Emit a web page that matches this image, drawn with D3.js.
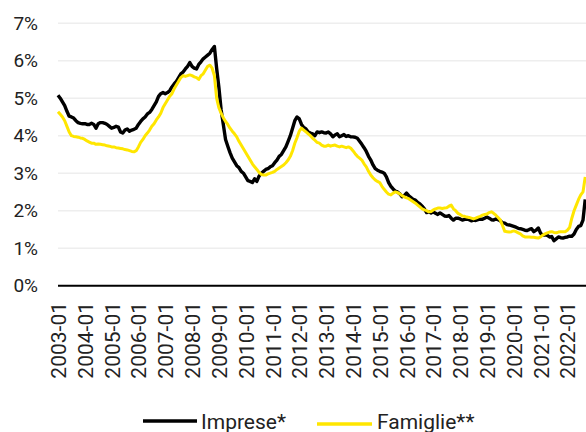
<!DOCTYPE html>
<html><head><meta charset="utf-8">
<script src="https://cdn.jsdelivr.net/npm/d3@7"></script>
<style>
html,body{margin:0;padding:0;background:#fff;}
svg{display:block;}
text{font-family:Roboto,"Open Sans",sans-serif;fill:#222;}
</style></head>
<body>
<svg id="chart" width="586" height="432"></svg>
<script>
// Monthly series starting 2003-01 (values in %)
const startYear = 2003;
const imprese = [
5.08,5.0,4.9,4.8,4.65,4.52,4.5,4.47,4.4,4.35,4.33,4.32,
4.32,4.3,4.3,4.33,4.3,4.2,4.32,4.35,4.35,4.33,4.3,4.25,
4.2,4.22,4.25,4.23,4.1,4.07,4.15,4.18,4.12,4.15,4.17,4.2,
4.3,4.38,4.45,4.5,4.58,4.62,4.7,4.8,4.9,5.05,5.12,5.15,
5.12,5.15,5.2,5.3,5.38,5.45,5.55,5.65,5.7,5.78,5.85,5.95,
5.85,5.8,5.78,5.9,5.97,6.05,6.1,6.15,6.2,6.3,6.38,5.8,
5.3,4.7,4.3,3.9,3.72,3.55,3.4,3.3,3.2,3.15,3.05,3.0,
2.9,2.8,2.78,2.75,2.85,2.78,2.92,3.0,3.05,3.1,3.12,3.17,
3.2,3.28,3.35,3.45,3.5,3.6,3.7,3.85,4.0,4.2,4.4,4.5,
4.45,4.3,4.22,4.18,4.1,4.07,4.05,4.0,4.1,4.08,4.1,4.08,
4.07,4.1,4.05,3.97,4.02,4.05,3.97,4.0,4.03,3.98,4.0,3.97,
3.97,3.96,3.93,3.85,3.77,3.68,3.58,3.45,3.35,3.22,3.12,3.08,
3.05,3.03,3.0,2.9,2.75,2.65,2.58,2.52,2.5,2.45,2.37,2.4,
2.47,2.4,2.35,2.3,2.28,2.22,2.18,2.12,2.05,1.95,1.97,1.94,
1.97,1.93,1.9,1.94,1.9,1.86,1.85,1.87,1.8,1.75,1.8,1.8,
1.78,1.75,1.77,1.78,1.76,1.73,1.75,1.74,1.76,1.78,1.77,1.8,
1.83,1.8,1.76,1.75,1.78,1.76,1.73,1.68,1.67,1.63,1.62,1.6,
1.58,1.56,1.53,1.52,1.5,1.48,1.47,1.5,1.52,1.44,1.48,1.54,
1.4,1.35,1.36,1.34,1.3,1.31,1.2,1.25,1.3,1.28,1.27,1.29,
1.3,1.32,1.32,1.38,1.5,1.58,1.6,1.75,2.3
];
const famiglie = [
4.64,4.57,4.5,4.4,4.25,4.1,4.0,3.98,3.97,3.96,3.94,3.93,
3.9,3.86,3.83,3.8,3.8,3.77,3.78,3.77,3.76,3.75,3.73,3.72,
3.7,3.7,3.68,3.67,3.66,3.65,3.63,3.62,3.6,3.58,3.57,3.6,
3.7,3.82,3.9,4.0,4.07,4.15,4.25,4.32,4.42,4.5,4.6,4.75,
4.85,4.95,5.05,5.12,5.25,5.35,5.45,5.55,5.6,5.58,5.6,5.62,
5.6,5.57,5.55,5.5,5.6,5.65,5.75,5.85,5.88,5.8,5.6,5.0,
4.75,4.6,4.48,4.38,4.3,4.2,4.12,4.05,3.97,3.85,3.75,3.65,
3.55,3.45,3.35,3.25,3.17,3.1,3.02,2.97,2.95,2.95,2.98,3.0,
3.02,3.05,3.1,3.14,3.18,3.22,3.28,3.35,3.45,3.6,3.8,3.95,
4.12,4.2,4.15,4.1,4.05,4.0,3.93,3.88,3.82,3.8,3.75,3.72,
3.72,3.75,3.72,3.74,3.75,3.72,3.7,3.72,3.7,3.68,3.7,3.67,
3.6,3.52,3.45,3.4,3.35,3.25,3.17,3.05,2.95,2.88,2.82,2.78,
2.75,2.65,2.57,2.5,2.44,2.42,2.47,2.5,2.48,2.45,2.4,2.37,
2.34,2.32,2.28,2.24,2.2,2.15,2.1,2.05,2.02,2.0,1.97,1.98,
2.02,2.05,2.07,2.07,2.06,2.07,2.08,2.12,2.15,2.05,2.0,1.93,
1.9,1.86,1.85,1.83,1.82,1.8,1.78,1.8,1.83,1.85,1.88,1.9,
1.91,1.95,1.97,1.93,1.88,1.82,1.75,1.6,1.45,1.44,1.43,1.44,
1.46,1.44,1.41,1.38,1.33,1.3,1.3,1.3,1.29,1.29,1.28,1.27,
1.3,1.35,1.38,1.41,1.43,1.44,1.42,1.41,1.43,1.44,1.44,1.44,
1.48,1.55,1.8,2.0,2.15,2.3,2.42,2.5,2.9
];
const xTickLabels = ["2003-01","2004-01","2005-01","2006-01","2007-01","2008-01","2009-01","2010-01","2011-01","2012-01","2013-01","2014-01","2015-01","2016-01","2017-01","2018-01","2019-01","2020-01","2021-01","2022-01"];
const yTicks = [0,1,2,3,4,5,6,7];
const seriesNames = ["Imprese*","Famiglie**"];
const seriesColors = ["#000000","#FFE600"];

const svg = d3.select("#chart");
const left = 58, right = 586;
const monthStep = 2.234;
const n = imprese.length;
const x = d3.scaleLinear().domain([0, n-1]).range([left, left + (n-1)*monthStep]);
const y = d3.scaleLinear().domain([0, 7]).range([285.7, 23.2]);

// gridlines
svg.append("g").selectAll("line").data(yTicks.filter(d=>d>0)).join("line")
  .attr("x1", left).attr("x2", right)
  .attr("y1", d=>y(d)).attr("y2", d=>y(d))
  .attr("stroke", "#eeeeee").attr("stroke-width", 1.6);

// y axis labels
const yAxis = d3.axisLeft(y).tickValues(yTicks).tickFormat(d=>d+"%").tickSize(0).tickPadding(0);
const gy = svg.append("g").attr("transform", `translate(38,0)`).call(yAxis);
gy.select(".domain").remove();
gy.selectAll("text").style("font-size","19px").style("font-family","Roboto").attr("fill","#222");

// lines
const line = d3.line().x((d,i)=>x(i)).y(d=>y(d));
[imprese, famiglie].forEach((s,k)=>{
  svg.append("path").datum(s)
    .attr("d", line)
    .attr("fill","none")
    .attr("stroke", seriesColors[k])
    .attr("stroke-width", k===0 ? 3.4 : 3)
    .attr("stroke-linejoin","round");
});

// zero axis
svg.append("line").attr("x1", left).attr("x2", right)
  .attr("y1", y(0)).attr("y2", y(0))
  .attr("stroke","#000").attr("stroke-width",2);

// x axis labels
const tickIdx = xTickLabels.map((d,i)=>i*12);
const xAxis = d3.axisBottom(x).tickValues(tickIdx).tickFormat((d,i)=>xTickLabels[i]).tickSize(0);
const gx = svg.append("g").attr("transform",`translate(0,302)`).call(xAxis);
gx.select(".domain").remove();
gx.selectAll("text")
  .attr("transform","rotate(-90)")
  .attr("text-anchor","end")
  .attr("x",0).attr("y",0).attr("dy","0.36em")
  .style("font-size","21px").style("font-family","Roboto").attr("fill","#222");

// legend
const legend = [
  {name: seriesNames[0], color: seriesColors[0], x1:143, x2:197, ly:421, tx:201, sw:3.4},
  {name: seriesNames[1], color: seriesColors[1], x1:317, x2:372, ly:424, tx:377, sw:3.4}
];
const lg = svg.append("g");
legend.forEach(l=>{
  lg.append("line").attr("x1",l.x1).attr("x2",l.x2).attr("y1",l.ly).attr("y2",l.ly)
    .attr("stroke",l.color).attr("stroke-width",l.sw);
  lg.append("text").attr("x",l.tx).attr("y",429).text(l.name)
    .style("font-size","21px").style("font-family","Roboto").attr("fill","#222");
});
</script>
</body></html>
